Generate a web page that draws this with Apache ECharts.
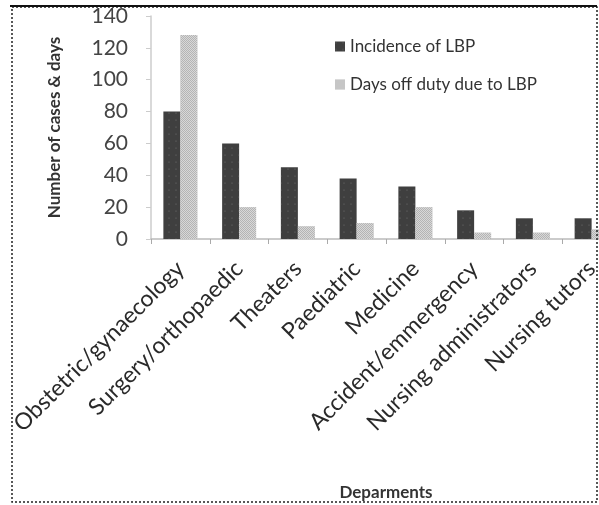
<!DOCTYPE html>
<html>
<head>
<meta charset="utf-8">
<script src="https://cdn.jsdelivr.net/npm/echarts@6/dist/echarts.min.js"></script>
<style>
  html, body { margin: 0; padding: 0; background: #fff; }
  #chart { width: 599px; height: 505px; }
</style>
</head>
<body>
<div id="chart"></div>
<script>
// departments on the x axis
const departments = [
  'Obstetric/gynaecology', 'Surgery/orthopaedic', 'Theaters', 'Paediatric',
  'Medicine', 'Accident/emmergency', 'Nursing administrators', 'Nursing tutors'
];
const incidence = [80, 60, 45, 38, 33, 18, 13, 13];
const daysOff = [128, 20, 8, 10, 20, 4, 4, 6];
const yTicks = [0, 20, 40, 60, 80, 100, 120, 140];

const font = 'Lato, "Open Sans", sans-serif';
const chart = echarts.init(document.getElementById('chart'));

chart.setOption({
  animation: false,
  backgroundColor: '#fff',
  textStyle: { fontFamily: font },
  graphic: [
    // dotted frame + solid top rule like the scanned figure
    {
      type: 'rect',
      shape: { x: 12, y: 7, width: 585, height: 495 },
      style: { fill: 'none', stroke: '#222', lineWidth: 1.5, lineDash: [2, 2] },
      silent: true,
      z: 100
    },
    {
      type: 'line',
      shape: { x1: 10, y1: 6, x2: 597, y2: 6 },
      style: { stroke: '#111', lineWidth: 2 },
      silent: true,
      z: 100
    }
  ],
  legend: {
    orient: 'vertical',
    left: 330,
    top: 33,
    itemGap: 21,
    itemWidth: 10,
    itemHeight: 10,
    icon: 'rect',
    textStyle: { fontFamily: font, fontSize: 17, color: '#333' },
    data: ['Incidence of LBP', 'Days off duty due to LBP']
  },
  grid: { left: 151, top: 16, width: 470, bottom: 266, outerBoundsMode: 'none', containLabel: false },
  xAxis: {
    type: 'category',
    data: departments,
    name: 'Deparments',
    nameLocation: 'middle',
    nameGap: 245,
    nameTextStyle: { fontFamily: font, fontSize: 17, fontWeight: 'bold', color: '#333' },
    axisLine: { lineStyle: { color: '#bbb', width: 1.5 } },
    axisTick: { show: true, length: 5, lineStyle: { color: '#aaa' } },
    axisLabel: {
      rotate: 45,
      margin: 26,
      fontFamily: font,
      fontSize: 23,
      color: '#2a2a2a',
      interval: 0,
      hideOverlap: false
    }
  },
  yAxis: {
    type: 'value',
    min: 0,
    max: 140,
    interval: 20,
    name: 'Number of cases & days',
    nameLocation: 'middle',
    nameGap: 88,
    nameTextStyle: { fontFamily: font, fontSize: 17, fontWeight: 'bold', color: '#333' },
    splitLine: { show: false },
    axisLine: { show: true, lineStyle: { color: '#ccc', width: 1.5 } },
    axisTick: { show: true, length: 5, lineStyle: { color: '#ccc' } },
    axisLabel: {
      margin: 23,
      fontFamily: font,
      fontSize: 21,
      color: '#444',
      formatter: v => yTicks.includes(v) ? String(v) : ''
    }
  },
  series: [
    {
      name: 'Incidence of LBP',
      type: 'bar',
      data: incidence,
      barWidth: 17,
      barGap: '0%',
      itemStyle: {
        color: '#3f3f3f',
        decal: {
          symbol: 'circle',
          symbolSize: 0.6,
          color: 'rgba(140,140,140,0.7)',
          dashArrayX: [[2, 5]],
          dashArrayY: [2, 5]
        }
      }
    },
    {
      name: 'Days off duty due to LBP',
      type: 'bar',
      data: daysOff,
      barWidth: 17,
      itemStyle: {
        color: '#b4b4b4',
        decal: {
          symbol: 'rect',
          symbolSize: 1,
          color: 'rgba(225,225,225,0.8)',
          dashArrayX: [[1, 1], [0, 1, 1, 0]],
          dashArrayY: [1, 0]
        }
      }
    }
  ]
});
</script>
</body>
</html>
